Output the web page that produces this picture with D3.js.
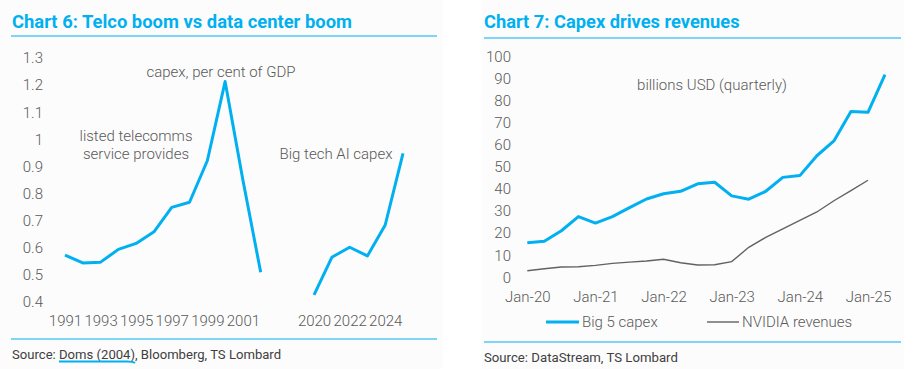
<!DOCTYPE html>
<html><head><meta charset="utf-8">
<script src="https://cdn.jsdelivr.net/npm/d3@7"></script>
<style>
html,body{margin:0;padding:0;background:#fff;}
svg{display:block;font-family:Roboto,"Noto Sans",sans-serif;}
</style></head>
<body>
<svg id="c" width="904" height="369"></svg>
<script>
// ---------- Chart 6 data ----------
const telcoCategories = ["1991","1992","1993","1994","1995","1996","1997","1998","1999","2000","2001","2002","","  ","2020","2021","2022","2023","2024","2025"];
const telcoLabels = ["1991","","1993","","1995","","1997","","1999","","2001","","","","2020","","2022","","2024",""];
const telcoCapex = [0.573,0.544,0.547,0.594,0.616,0.659,0.749,0.768,0.921,1.213,0.85,0.51,null,null,null,null,null,null,null,null];
const aiCapex = [null,null,null,null,null,null,null,null,null,null,null,null,null,null,0.426,0.565,0.602,0.57,0.684,0.948];
const leftYTicks = [0.4,0.5,0.6,0.7,0.8,0.9,1,1.1,1.2,1.3];

// ---------- Chart 7 data ----------
const quarters = ["Jan-20","Apr-20","Jul-20","Oct-20","Jan-21","Apr-21","Jul-21","Oct-21","Jan-22","Apr-22","Jul-22","Oct-22","Jan-23","Apr-23","Jul-23","Oct-23","Jan-24","Apr-24","Jul-24","Oct-24","Jan-25","Apr-25"];
const big5Capex = [15.7,16.3,21.1,27.5,24.6,27.5,31.6,35.5,37.9,39.0,42.4,43.1,36.9,35.4,39.0,45.3,46.1,55.1,61.8,75.2,74.8,91.9];
const nvidiaRevenues = [3.0,3.9,4.7,4.8,5.4,6.3,6.9,7.4,8.2,6.6,5.6,5.7,7.1,13.6,18.1,22.0,25.8,29.6,34.7,39.3,44.0,null];
const rightXTicks = ["Jan-20","Jan-21","Jan-22","Jan-23","Jan-24","Jan-25"];
const rightYTicks = [0,10,20,30,40,50,60,70,80,90,100];

const BLUE = "#00B0F0", GRAY_TXT = "#595959", GRAY_LINE = "#626262";
const svg = d3.select("#c");

// panels
svg.append("rect").attr("x",0).attr("y",0).attr("width",443).attr("height",369).attr("fill","#fcfcfc");
svg.append("rect").attr("x",482).attr("y",0).attr("width",422).attr("height",369).attr("fill","#fcfcfc");

// ================= LEFT =================
const L = svg.append("g");
L.append("text").attr("x",12).attr("y",28).attr("fill",BLUE)
  .attr("font-size",18.4).attr("font-weight",700).text("Chart 6: Telco boom vs data center boom");
L.append("line").attr("x1",11).attr("x2",437).attr("y1",36).attr("y2",36).attr("stroke",BLUE).attr("stroke-width",1.2);

const xL = d3.scalePoint().domain(telcoCategories).range([65,403]);
const yL = d3.scaleLinear().domain([0.4,1.3]).range([302,58]);

const yAxL = d3.axisLeft(yL).tickValues(leftYTicks).tickSize(0).tickPadding(0).tickFormat(d3.format("~g"));
L.append("g").attr("transform","translate(43,0)").call(yAxL)
  .call(g=>g.select(".domain").remove())
  .selectAll("text").attr("font-size",15).attr("font-weight",300).attr("fill",GRAY_TXT).attr("font-family","Roboto");

const xAxL = d3.axisBottom(xL).tickSize(0).tickPadding(0).tickFormat((d,i)=>telcoLabels[i]);
L.append("g").attr("transform","translate(0,315)").call(xAxL)
  .call(g=>g.select(".domain").remove())
  .selectAll("text").attr("font-size",15).attr("font-weight",300).attr("fill",GRAY_TXT).attr("font-family","Roboto");

const lineL = d3.line().defined(d=>d.v!=null).x(d=>xL(d.c)).y(d=>yL(d.v));
[telcoCapex, aiCapex].forEach(s=>{
  L.append("path").datum(telcoCategories.map((c,i)=>({c,v:s[i]})))
   .attr("d",lineL).attr("fill","none").attr("stroke",BLUE).attr("stroke-width",3).attr("stroke-linejoin","round");
});

const annStyle = s=>s.attr("text-anchor","middle").attr("font-size",15).attr("font-weight",300).attr("fill",GRAY_TXT);
L.append("text").attr("x",221).attr("y",77).call(annStyle).text("capex, per cent of GDP");
L.append("text").attr("x",136).attr("y",141).call(annStyle).text("listed telecomms");
L.append("text").attr("x",136).attr("y",158.5).call(annStyle).text("service provides");
L.append("text").attr("x",336).attr("y",159).call(annStyle).text("Big tech AI capex");

L.append("line").attr("x1",11).attr("x2",437).attr("y1",339).attr("y2",339).attr("stroke",BLUE).attr("stroke-width",1.2);
const src = L.append("text").attr("x",12).attr("y",359).attr("font-size",13.1).attr("fill","#404040");
src.append("tspan").text("Source: ");
src.append("tspan").text("Doms (2004)");
src.append("tspan").text(", Bloomberg, TS Lombard");
const t1 = src.node().getSubStringLength(0,8);
const t2 = src.node().getSubStringLength(8,11);
L.append("path").attr("d",`M${12+t1},361.5 L${12+t1+t2-8},361.5 Q${12+t1+t2-2},361.5 ${12+t1+t2},363`)
  .attr("fill","none").attr("stroke",BLUE).attr("stroke-width",2);

// ================= RIGHT =================
const R = svg.append("g");
R.append("text").attr("x",484).attr("y",28).attr("fill",BLUE)
  .attr("font-size",18.3).attr("font-weight",700).text("Chart 7: Capex drives revenues");
R.append("line").attr("x1",484).attr("x2",901).attr("y1",38).attr("y2",38).attr("stroke",BLUE).attr("stroke-width",1.2);

const xR = d3.scalePoint().domain(quarters).range([527.3,885]);
const yR = d3.scaleLinear().domain([0,100]).range([277.3,56.7]);

R.append("g").attr("transform","translate(511,0)")
  .call(d3.axisLeft(yR).tickValues(rightYTicks).tickSize(0).tickPadding(0))
  .call(g=>g.select(".domain").remove())
  .selectAll("text").attr("font-size",15).attr("font-weight",300).attr("fill",GRAY_TXT).attr("font-family","Roboto");

R.append("g").attr("transform","translate(0,291)")
  .call(d3.axisBottom(xR).tickValues(rightXTicks).tickSize(0).tickPadding(0))
  .call(g=>g.select(".domain").remove())
  .selectAll("text").attr("font-size",15).attr("font-weight",300).attr("fill",GRAY_TXT).attr("font-family","Roboto");

const lineR = d3.line().defined(d=>d.v!=null).x(d=>xR(d.q)).y(d=>yR(d.v));
R.append("path").datum(quarters.map((q,i)=>({q,v:nvidiaRevenues[i]})))
  .attr("d",lineR).attr("fill","none").attr("stroke",GRAY_LINE).attr("stroke-width",1.4);
R.append("path").datum(quarters.map((q,i)=>({q,v:big5Capex[i]})))
  .attr("d",lineR).attr("fill","none").attr("stroke",BLUE).attr("stroke-width",3).attr("stroke-linejoin","round");

R.append("text").attr("x",712).attr("y",90).attr("text-anchor","middle")
  .attr("font-size",15).attr("font-weight",300).attr("fill",GRAY_TXT).text("billions USD (quarterly)");

// legend
const leg = [{t:"Big 5 capex",c:BLUE,w:3,x1:546,x2:579},{t:"NVIDIA revenues",c:GRAY_LINE,w:1.4,x1:707,x2:739}];
leg.forEach(d=>{
  R.append("line").attr("x1",d.x1).attr("x2",d.x2).attr("y1",322).attr("y2",322).attr("stroke",d.c).attr("stroke-width",d.w);
  R.append("text").attr("x",d.x2+3).attr("y",327).attr("font-size",15).attr("font-weight",300).attr("fill",GRAY_TXT).text(d.t);
});

R.append("line").attr("x1",484).attr("x2",901).attr("y1",342).attr("y2",342).attr("stroke",BLUE).attr("stroke-width",1.2);
R.append("text").attr("x",484).attr("y",362).attr("font-size",13.2).attr("fill","#404040").text("Source: DataStream, TS Lombard");
</script>
</body></html>
